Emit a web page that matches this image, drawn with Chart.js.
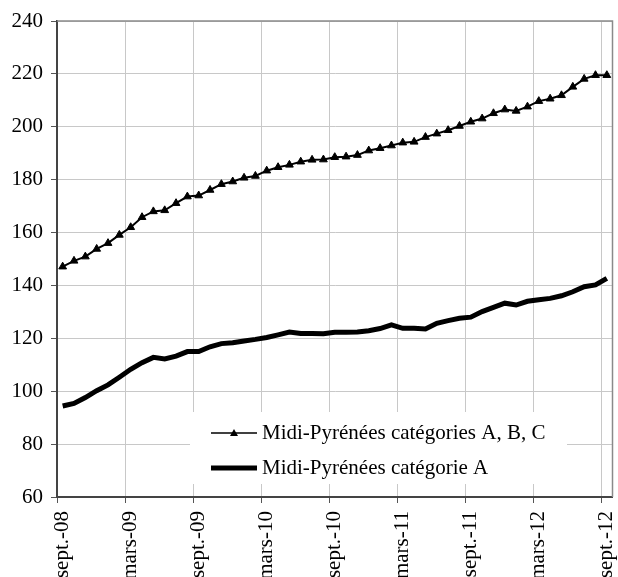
<!DOCTYPE html>
<html>
<head>
<meta charset="utf-8">
<script src="https://cdn.jsdelivr.net/npm/chart.js@4.4.1/dist/chart.umd.min.js"></script>
<style>
  body { margin: 0; background: #fff; }
  #wrap { width: 618px; height: 577px; position: relative; }
</style>
</head>
<body>
<div id="wrap"><canvas id="chart"></canvas></div>
<script>
// monthly categories, sept. 2008 -> sept. 2012
const months = [
  'sept.-08', 'oct.-08', 'nov.-08', 'déc.-08', 'janv.-09', 'févr.-09',
  'mars-09', 'avr.-09', 'mai-09', 'juin-09', 'juil.-09', 'août-09',
  'sept.-09', 'oct.-09', 'nov.-09', 'déc.-09', 'janv.-10', 'févr.-10',
  'mars-10', 'avr.-10', 'mai-10', 'juin-10', 'juil.-10', 'août-10',
  'sept.-10', 'oct.-10', 'nov.-10', 'déc.-10', 'janv.-11', 'févr.-11',
  'mars-11', 'avr.-11', 'mai-11', 'juin-11', 'juil.-11', 'août-11',
  'sept.-11', 'oct.-11', 'nov.-11', 'déc.-11', 'janv.-12', 'févr.-12',
  'mars-12', 'avr.-12', 'mai-12', 'juin-12', 'juil.-12', 'août-12',
  'sept.-12'
];

const catABC = [
  147.1, 149.3, 150.9, 153.8, 156.0, 159.1,
  162.0, 165.8, 168.0, 168.4, 171.1, 173.6,
  174.0, 176.1, 178.3, 179.3, 180.7, 181.4,
  183.4, 184.7, 185.6, 186.8, 187.5, 187.6,
  188.5, 188.7, 189.3, 191.0, 191.9, 192.9,
  194.0, 194.3, 196.1, 197.4, 198.7, 200.3,
  201.9, 203.1, 205.1, 206.5, 206.0, 207.6,
  209.7, 210.6, 211.9, 215.1, 218.1, 219.5,
  219.5
];

const catA = [
  94.4, 95.4, 97.6, 100.2, 102.4, 105.3,
  108.3, 110.8, 112.8, 112.2, 113.3, 115.0,
  115.0, 116.8, 118.0, 118.3, 119.0, 119.6,
  120.3, 121.3, 122.4, 121.8, 121.8, 121.7,
  122.3, 122.3, 122.4, 122.9, 123.7, 125.1,
  123.8, 123.8, 123.5, 125.7, 126.7, 127.6,
  128.0, 130.1, 131.7, 133.3, 132.6, 134.0,
  134.6, 135.1, 136.1, 137.6, 139.5, 140.2,
  142.7
];

const seriesNames = ['Midi-Pyrénées catégories A, B, C', 'Midi-Pyrénées catégorie A'];

const yMin = 60, yMax = 240, yStep = 20;
const labelEvery = 6;

const serif = "'Liberation Serif', 'Times New Roman', serif";
const fontSize = 21;
const gridGray = '#c8c8c8';

// top and right edges of the plot frame
const frame = {
  id: 'frame',
  afterDraw(chart) {
    const { ctx, chartArea: a } = chart;
    ctx.save();
    ctx.strokeStyle = '#8a8a8a';
    ctx.lineWidth = 1.5;
    ctx.beginPath();
    ctx.moveTo(a.left, a.top);
    ctx.lineTo(a.right, a.top);
    ctx.lineTo(a.right, a.bottom);
    ctx.stroke();
    ctx.restore();
  }
};

// legend sitting inside the plot, on a white box
const legendBox = {
  id: 'legendBox',
  afterDatasetsDraw(chart) {
    const { ctx, chartArea: a } = chart;
    const bx = a.left + 133, by = a.top + 391;
    ctx.save();
    ctx.fillStyle = '#fff';
    ctx.fillRect(bx, by, 377, 72);

    const x0 = bx + 21, x1 = bx + 67, tx = bx + 72;
    const rows = [by + 21, by + 56];
    ctx.strokeStyle = '#000';
    ctx.fillStyle = '#000';

    // row 1: thin line + triangle
    ctx.lineWidth = 1.5;
    ctx.beginPath();
    ctx.moveTo(x0, rows[0]);
    ctx.lineTo(x1, rows[0]);
    ctx.stroke();
    const cx = (x0 + x1) / 2;
    ctx.beginPath();
    ctx.moveTo(cx, rows[0] - 4);
    ctx.lineTo(cx + 4, rows[0] + 3);
    ctx.lineTo(cx - 4, rows[0] + 3);
    ctx.closePath();
    ctx.fill();

    // row 2: thick line
    ctx.lineWidth = 5;
    ctx.beginPath();
    ctx.moveTo(x0, rows[1]);
    ctx.lineTo(x1, rows[1]);
    ctx.stroke();

    ctx.font = fontSize + 'px ' + serif;
    ctx.textBaseline = 'middle';
    ctx.textAlign = 'left';
    ctx.fillText(chart.data.datasets[0].label, tx, rows[0]);
    ctx.fillText(chart.data.datasets[1].label, tx, rows[1]);
    ctx.restore();
  }
};

new Chart(document.getElementById('chart'), {
  type: 'line',
  data: {
    labels: months,
    datasets: [
      {
        label: seriesNames[0],
        data: catABC,
        borderColor: '#000',
        backgroundColor: '#000',
        borderWidth: 2,
        pointStyle: 'triangle',
        pointRadius: 4.5,
        pointBorderWidth: 1,
        tension: 0,
        fill: false
      },
      {
        label: seriesNames[1],
        data: catA,
        borderColor: '#000',
        backgroundColor: '#000',
        borderWidth: 5,
        pointRadius: 0,
        tension: 0,
        fill: false
      }
    ]
  },
  options: {
    responsive: true,
    maintainAspectRatio: false,
    animation: false,
    layout: { padding: { top: 21, right: 2, left: 0, bottom: 0 } },
    plugins: {
      legend: { display: false },
      tooltip: { enabled: false }
    },
    scales: {
      x: {
        type: 'category',
        offset: true,
        grid: {
          offset: true,
          color: c => (c.index !== undefined && c.index % labelEvery === 0) ? gridGray : 'transparent',
          tickColor: c => (c.index !== undefined && c.index % labelEvery === 0) ? '#555' : 'transparent',
          tickLength: 6,
          lineWidth: 1
        },
        border: { color: '#444', width: 2 },
        ticks: {
          autoSkip: false,
          maxRotation: 90,
          minRotation: 90,
          padding: 8,
          color: '#000',
          font: { family: serif, size: fontSize },
          callback: (v, i) => (i % labelEvery === 0 ? months[i] : '')
        },
        afterFit(scale) {
          scale.height = 80;
          scale.paddingLeft = 0;
          scale.paddingRight = 0;
        }
      },
      y: {
        min: yMin,
        max: yMax,
        grid: {
          color: gridGray,
          tickColor: '#555',
          tickLength: 6,
          lineWidth: 1
        },
        border: { color: '#444', width: 2 },
        ticks: {
          stepSize: yStep,
          padding: 8,
          color: '#000',
          font: { family: serif, size: fontSize }
        },
        afterFit(scale) {
          scale.width = 57;
          scale.paddingTop = 0;
          scale.paddingBottom = 0;
        }
      }
    }
  },
  plugins: [frame, legendBox]
});
</script>
</body>
</html>
